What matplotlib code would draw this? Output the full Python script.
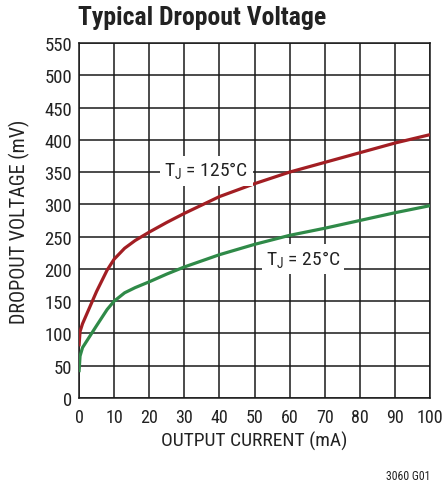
import matplotlib
matplotlib.use("Agg")
import matplotlib.pyplot as plt

current_125 = [0, 0.3, 1, 3, 5, 8, 10, 13, 16, 20, 25, 30, 40, 50, 60, 70, 80, 90, 100]
vdrop_125 = [80, 103, 115, 140, 165, 198, 215, 232, 244, 257, 272, 286, 312, 332, 350, 365, 380, 395, 408]
current_25 = [0, 0.3, 1, 3, 5, 8, 10, 13, 16, 20, 25, 30, 40, 50, 60, 70, 80, 90, 100]
vdrop_25 = [40, 65, 78, 95, 112, 137, 150, 163, 171, 180, 192, 203, 222, 238, 252, 263, 275, 287, 298]
xticks = list(range(0, 101, 10))
yticks = list(range(0, 551, 50))

FAM = ['Roboto Condensed', 'Liberation Sans Narrow', 'DejaVu Sans']
plt.rcParams['font.family'] = FAM
plt.rcParams['font.stretch'] = 'condensed'
TXT = '#222222'

fig = plt.figure(figsize=(4.42, 4.85), dpi=100)
ax = fig.add_axes([79/442, 1-399/485, (430-79)/442, (399-44)/485])

ax.plot(current_125, vdrop_125, color='#a21e23', lw=2.3, solid_capstyle='butt', zorder=3)
ax.plot(current_25, vdrop_25, color='#2f8a48', lw=2.3, solid_capstyle='butt', zorder=3)

ax.set_xlim(0, 100)
ax.set_ylim(0, 550)
ax.set_xticks(xticks)
ax.set_yticks(yticks)
ax.grid(True, color='#1a1a1a', lw=1.1)
ax.set_axisbelow(True)
for s in ax.spines.values():
    s.set_color('#1a1a1a')
    s.set_linewidth(1.1)
ax.tick_params(axis='x', length=0, pad=7, labelsize=13, colors=TXT)
ax.tick_params(axis='y', length=0, pad=5, labelsize=13.5, colors=TXT)

ax.set_xlabel('OUTPUT CURRENT (mA)', fontsize=14, color=TXT, labelpad=4)
ax.set_ylabel('DROPOUT VOLTAGE (mV)', fontsize=14.5, color=TXT, labelpad=10)

bbox = dict(facecolor='white', edgecolor='none', pad=3)
ax.text(24.3, 352, r'T$_\mathregular{J}$ = 125°C', fontsize=14, color=TXT,
        va='center', ha='left', bbox=bbox, zorder=4)
ax.text(53.2, 215, r'T$_\mathregular{J}$ = 25°C', fontsize=14, color=TXT,
        va='center', ha='left', bbox=bbox, zorder=4)

fig.text(78/442, 1-18/485, 'Typical Dropout Voltage', fontsize=18.5, fontweight='bold',
         color=TXT, va='center', ha='left')
fig.text(430/442, 1-477/485, '3060 G01', fontsize=8.5, color=TXT, va='center', ha='right')

fig.savefig('out.png', dpi=100)
